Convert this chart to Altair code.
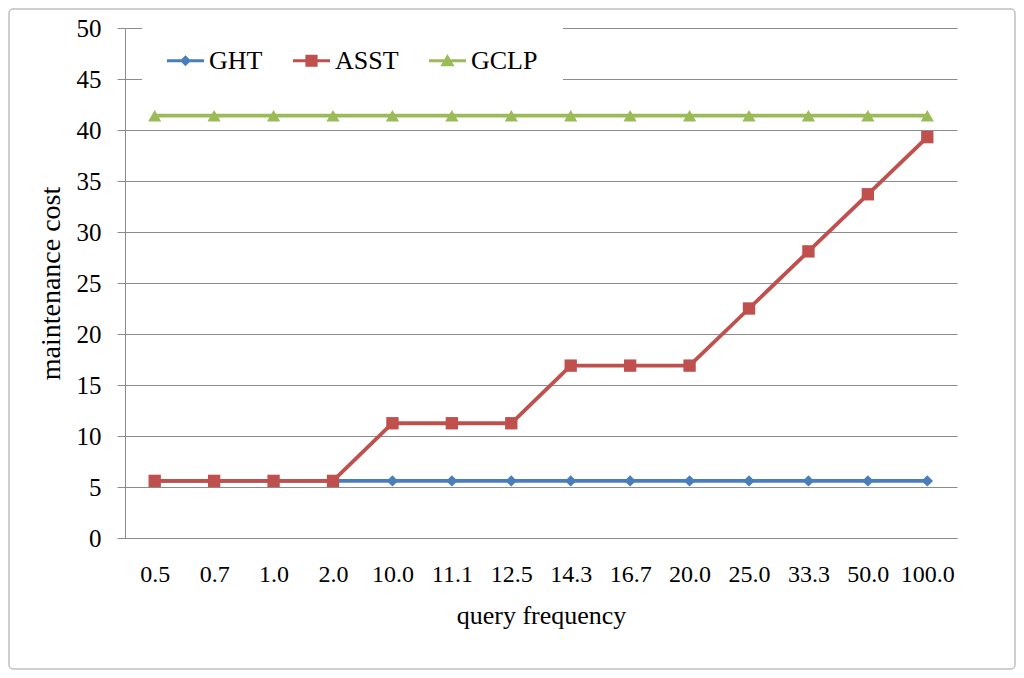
import altair as alt
import pandas as pd

# ---- data ----
categories = ["0.5", "0.7", "1.0", "2.0", "10.0", "11.1", "12.5", "14.3",
              "16.7", "20.0", "25.0", "33.3", "50.0", "100.0"]
series_names = ["GHT", "ASST", "GCLP"]
ght = [5.6] * 14
asst = [5.6, 5.6, 5.6, 5.6, 11.25, 11.25, 11.25, 16.9, 16.9, 16.9, 22.5, 28.1, 33.7, 39.3]
gclp = [41.4] * 14
y_ticks = [0, 5, 10, 15, 20, 25, 30, 35, 40, 45, 50]

colors = ["#4A7EBB", "#C0504D", "#9BBB59"]
marker_shapes = ["diamond", "square", "triangle-up"]
bar = "M-1,-0.085L1,-0.085L1,0.085L-1,0.085Z"
legend_shapes = [
    bar + "M0,-0.3L0.3,0L0,0.3L-0.3,0Z",
    bar + "M-0.33,-0.33L0.33,-0.33L0.33,0.33L-0.33,0.33Z",
    bar + "M0,-0.36L0.38,0.3L-0.38,0.3Z",
]

rows = []
for name, vals in zip(series_names, [ght, asst, gclp]):
    for c, v in zip(categories, vals):
        rows.append({"freq": c, "cost": v, "series": name})
df = pd.DataFrame(rows)

FONT = "Liberation Serif"
W, H = 832, 510

x_enc = alt.X("freq:O", sort=categories,
              scale=alt.Scale(type="point", padding=0.5),
              axis=alt.Axis(title="query frequency", labelAngle=0, ticks=False,
                            grid=False, domainColor="#8c8c8c", labelFont=FONT,
                            labelFontSize=24, labelColor="black", labelPadding=24,
                            titleFont=FONT, titleFontSize=26, titleFontWeight="normal",
                            titleColor="black", titlePadding=16))
y_enc = alt.Y("cost:Q", scale=alt.Scale(domain=[0, 50], nice=False),
              axis=alt.Axis(title="maintenance cost", values=y_ticks, grid=True,
                            gridColor="#8c8c8c", gridWidth=1, tickSize=8,
                            tickColor="#8c8c8c", domainColor="#8c8c8c",
                            labelFont=FONT, labelFontSize=25, labelColor="black",
                            labelPadding=16, titleFont=FONT, titleFontSize=28,
                            titleFontWeight="normal", titleColor="black",
                            titlePadding=11))

base = alt.Chart(df)

border = alt.Chart(pd.DataFrame({"a": [0]})).mark_rect(
    fill="white", fillOpacity=0, stroke="#c0c0c0", strokeWidth=1.5, cornerRadius=4
).encode(x=alt.value(-116), x2=alt.value(890), y=alt.value(-19), y2=alt.value(641))

lines = base.mark_line(strokeWidth=3.8).encode(
    x=x_enc, y=y_enc,
    color=alt.Color("series:N", scale=alt.Scale(domain=series_names, range=colors),
                    legend=None),
    detail="series:N",
)

points = base.mark_point(filled=True, opacity=1, strokeWidth=0).encode(
    x=x_enc, y=y_enc,
    color=alt.Color("series:N", scale=alt.Scale(domain=series_names, range=colors),
                    legend=None),
    shape=alt.Shape("series:N", scale=alt.Scale(domain=series_names, range=marker_shapes),
                    legend=None),
    size=alt.Size("series:N", scale=alt.Scale(domain=series_names, range=[130, 175, 200]),
                  legend=None),
)

legend_kw = dict(title=None, orient="none", legendX=17, legendY=-11,
                 direction="horizontal", labelFont=FONT, labelFontSize=26,
                 labelColor="black", symbolSize=1369, symbolStrokeWidth=0,
                 labelOffset=5, columnPadding=30, padding=25, fillColor="white",
                 symbolOpacity=1)

legend_layer = base.mark_point(filled=True, opacity=1, strokeWidth=0).encode(
    x=x_enc, y=y_enc,
    color=alt.Color("series:N", scale=alt.Scale(domain=series_names, range=colors),
                    legend=alt.Legend(**legend_kw)),
    shape=alt.Shape("series:N", scale=alt.Scale(domain=series_names, range=legend_shapes),
                    legend=alt.Legend(**legend_kw)),
).transform_filter("false")

chart = alt.layer(border, lines, points, legend_layer).resolve_scale(
    color="independent", shape="independent", size="independent"
).properties(
    width=W, height=H,
    autosize=alt.AutoSizeParams(type="none"),
    padding={"left": 117, "top": 20, "right": 59, "bottom": 132},
    background="white",
).configure_view(stroke="transparent")

chart.save("out.html", embed_options={"renderer": "svg", "actions": False})
